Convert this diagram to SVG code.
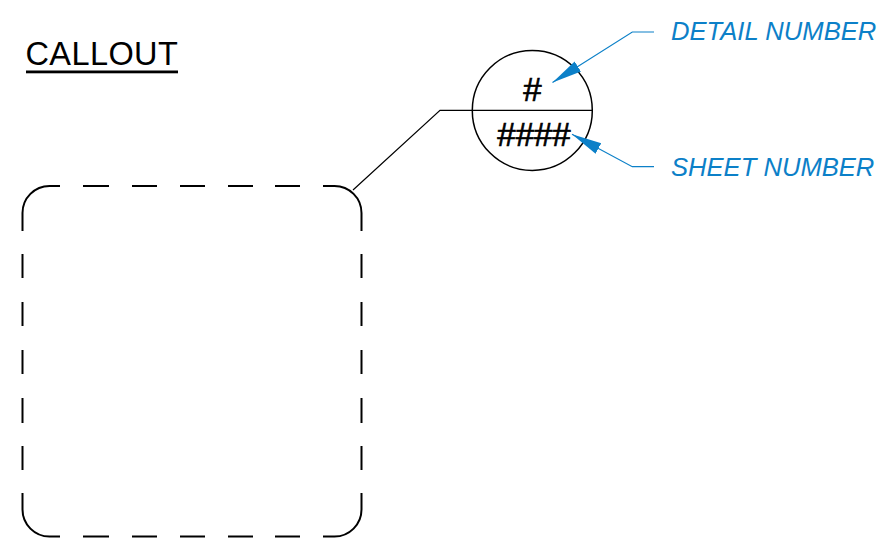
<svg xmlns="http://www.w3.org/2000/svg" width="877" height="538" viewBox="0 0 877 538">
  <style>
    .box { fill: none; stroke: #000; stroke-width: 2; }
    .thin { fill: none; stroke: #000; stroke-width: 1.2; }
    .blue { fill: none; stroke: #0c80c8; stroke-width: 1.2; }
    .lbl { font-family: "Liberation Sans", Arial, sans-serif; font-style: italic; font-size: 25.6px; fill: #0c80c8; }
    .hash { font-family: "Liberation Sans", Arial, sans-serif; font-size: 33px; fill: #000; stroke: #000; stroke-width: 0.7; text-anchor: middle; }
  </style>
  <defs>
    <marker id="arr" markerUnits="userSpaceOnUse" markerWidth="30" markerHeight="14" refX="25" refY="5" orient="auto-start-reverse" viewBox="0 0 25 10">
      <path d="M0,0 L25,5 L0,10 z" fill="#0c80c8"/>
    </marker>
  </defs>
  <rect width="877" height="538" fill="#fff"/>

  <g id="title">
    <text x="25.5" y="64.5" font-family="Liberation Sans, Arial, sans-serif" font-size="32.5" letter-spacing="0.4" fill="#000">CALLOUT</text>
    <rect x="26" y="70.5" width="152" height="2.8" fill="#000"/>
  </g>

  <g id="detail-area">
    <path class="box" d="M22.5,231 V213 A27,27 0 0 1 49.5,186 H60 M323,186 H334.5 A27,27 0 0 1 361.5,213 V231 M22.5,493 V509.5 A27,27 0 0 0 49.5,536.5 H60 M323,536.5 H334.5 A27,27 0 0 0 361.5,509.5 V493"/>
    <path class="box" d="M83,186 H109 M132,186 H157 M180,186 H205 M228,186 H253 M275,186 H300 M83,536.5 H109 M132,536.5 H157 M180,536.5 H205 M228,536.5 H253 M275,536.5 H300 M22.5,254 V278 M22.5,302 V326 M22.5,350 V374 M22.5,398 V423 M22.5,446 V470 M361.5,254 V278 M361.5,302 V326 M361.5,350 V374 M361.5,398 V423 M361.5,446 V470"/>
  </g>

  <g id="callout-bubble">
    <circle cx="532.3" cy="110.4" r="60" fill="none" stroke="#000" stroke-width="1.5"/>
    <text class="hash" x="532.5" y="100.5">#</text>
    <text class="hash" x="534" y="145.5">####</text>
  </g>

  <g id="label-detail">
    <text class="lbl" x="671" y="40">DETAIL NUMBER</text>
  </g>
  <g id="label-sheet">
    <text class="lbl" x="671" y="176">SHEET NUMBER</text>
  </g>

  <g id="connectors">
    <path class="thin" d="M353,190 L440,110.4 H592.3"/>
    <path class="blue" d="M552.5,82.5 L632.3,32 H654" marker-start="url(#arr)"/>
    <path class="blue" d="M572,134.3 L632.3,166.7 H654" marker-start="url(#arr)"/>
  </g>
</svg>
